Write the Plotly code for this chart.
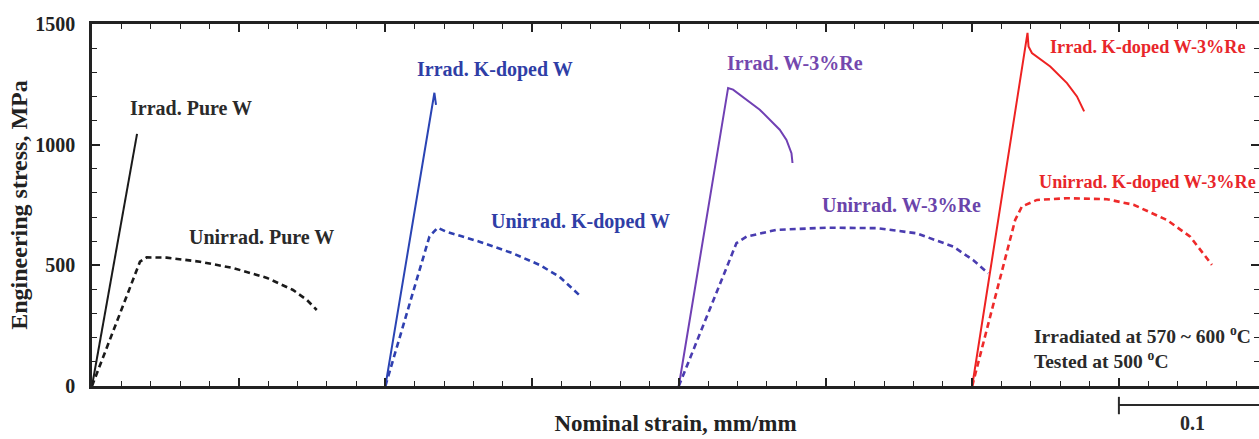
import plotly.graph_objects as go

# ---- data (strain relative to each specimen's start, MPa) ----
offsets = [0.0, 0.0, 0.2, 0.2, 0.4, 0.4, 0.6, 0.6]
names = ["Irrad. Pure W", "Unirrad. Pure W",
         "Irrad. K-doped W", "Unirrad. K-doped W",
         "Irrad. W-3%Re", "Unirrad. W-3%Re",
         "Irrad. K-doped W-3%Re", "Unirrad. K-doped W-3%Re"]

irr_pure_strain = [0.0, 0.0307]
irr_pure_stress = [0, 1045]

unirr_pure_strain = [0.0, 0.0327, 0.0373, 0.0509, 0.0736, 0.0961, 0.1193, 0.137, 0.1466, 0.1532]
unirr_pure_stress = [0, 515, 533, 532, 515, 489, 448, 398, 356, 315]

irr_k_strain = [0.0, 0.0334, 0.0345]
irr_k_stress = [0, 1215, 1165]

unirr_k_strain = [0.0, 0.030, 0.0356, 0.0413, 0.0641, 0.0868, 0.1050, 0.1186, 0.1334]
unirr_k_stress = [0, 619, 656, 640, 598, 550, 502, 453, 370]

irr_re_strain = [0.0, 0.0336, 0.0370, 0.0552, 0.0688, 0.0734, 0.0768, 0.0775]
irr_re_stress = [0, 1235, 1228, 1145, 1062, 1020, 965, 924]

unirr_re_strain = [0.0, 0.0325, 0.0393, 0.0462, 0.0666, 0.1007, 0.1348, 0.1620, 0.1870, 0.2006, 0.2109]
unirr_re_stress = [0, 495, 592, 619, 647, 656, 654, 633, 578, 522, 467]

irr_kre_strain = [0.0, 0.0377, 0.0384, 0.0407, 0.0532, 0.0646, 0.0714, 0.0763]
irr_kre_stress = [0, 1463, 1407, 1380, 1324, 1255, 1200, 1138]

unirr_kre_strain = [0.0, 0.0293, 0.0339, 0.0441, 0.0645, 0.0918, 0.1100, 0.1327, 0.1486, 0.1577, 0.1634]
unirr_kre_stress = [0, 688, 744, 771, 778, 774, 751, 688, 619, 550, 502]

strains = [irr_pure_strain, unirr_pure_strain, irr_k_strain, unirr_k_strain,
           irr_re_strain, unirr_re_strain, irr_kre_strain, unirr_kre_strain]
stresses = [irr_pure_stress, unirr_pure_stress, irr_k_stress, unirr_k_stress,
            irr_re_stress, unirr_re_stress, irr_kre_stress, unirr_kre_stress]

colors = ["#1a1a1a", "#1a1a1a", "#2a44b4", "#2f40b0", "#7040b4", "#4a3cb0", "#ee2222", "#ee2a2a"]
label_colors = ["#2a2a2a", "#2a2a2a", "#2f3ea6", "#2f3ea6", "#7448ae", "#6a44aa", "#e8262a", "#e8262a"]
label_sizes = [20, 20, 20, 20, 20, 20, 18.2, 18.2]
dashed = [False, True, False, True, False, True, False, True]

FONT = "Liberation Serif"

fig = go.Figure()
for i in range(8):
    xs = [offsets[i] + s for s in strains[i]]
    fig.add_trace(go.Scatter(
        x=xs, y=stresses[i], mode="lines", name=names[i],
        line=dict(color=colors[i], width=2.6 if dashed[i] else 2.0,
                  dash="6px,4px" if dashed[i] else "solid"),
        showlegend=False, hoverinfo="skip"))

# curve labels
label_pos = [(0.0245, 1153), (0.0648, 618), (0.2202, 1310), (0.2706, 680),
             (0.4315, 1339), (0.4963, 751), (0.652, 1406), (0.6440, 846)]
for i in range(8):
    fig.add_annotation(x=label_pos[i][0], y=label_pos[i][1], text="<b>%s</b>" % names[i],
                       xanchor="left", yanchor="middle", showarrow=False,
                       font=dict(family=FONT, size=label_sizes[i], color=label_colors[i]))

fig.add_annotation(x=0.6408, y=211, text="<b>Irradiated at 570 ~ 600 <sup>o</sup>C</b>",
                   xanchor="left", yanchor="middle", showarrow=False,
                   font=dict(family=FONT, size=19.5, color="#2a2a2a"))
fig.add_annotation(x=0.6408, y=108, text="<b>Tested at 500 <sup>o</sup>C</b>",
                   xanchor="left", yanchor="middle", showarrow=False,
                   font=dict(family=FONT, size=19.5, color="#2a2a2a"))

# scale bar (0.1 strain)
fig.add_shape(type="line", xref="x", yref="paper", x0=0.7, x1=0.8, y0=-0.0525, y1=-0.0525,
              line=dict(color="#2a2a2a", width=2))
fig.add_shape(type="line", xref="x", yref="paper", x0=0.7, x1=0.7, y0=-0.030, y1=-0.078,
              line=dict(color="#2a2a2a", width=2))
fig.add_annotation(x=0.75, xref="x", y=-0.102, yref="paper", text="<b>0.1</b>",
                   showarrow=False, xanchor="center", yanchor="middle",
                   font=dict(family=FONT, size=20, color="#2a2a2a"))

axis_common = dict(showgrid=False, zeroline=False, showline=True, linewidth=2.5,
                   linecolor="#222222", mirror="ticks", ticks="inside",
                   tickcolor="#222222", tickwidth=1.5)

fig.update_xaxes(range=[0, 0.7955], dtick=0.1, tick0=0, ticklen=8, showticklabels=False,
                 minor=dict(dtick=0.02, tick0=0, ticklen=5, ticks="inside", tickcolor="#222222", tickwidth=1.2),
                 title=dict(text="<b>Nominal strain, mm/mm</b>", standoff=28,
                            font=dict(family=FONT, size=23, color="#222222")),
                 **axis_common)
fig.update_yaxes(range=[0, 1500], dtick=500, tick0=0, ticklen=8,
                 minor=dict(dtick=100, tick0=0, ticklen=5, ticks="inside", tickcolor="#222222", tickwidth=1.2),
                 tickfont=dict(family=FONT, size=20, color="#222222"),
                 tickprefix="<b>", ticksuffix="</b>", ticklabelstandoff=10,
                 title=dict(text="<b>Engineering stress, MPa</b>", standoff=1,
                            font=dict(family=FONT, size=24, color="#222222")),
                 **axis_common)

fig.update_layout(width=1259, height=439, margin=dict(l=92, r=0, t=24, b=53, autoexpand=False),
                  paper_bgcolor="white", plot_bgcolor="white")

fig.write_html("out.html")
